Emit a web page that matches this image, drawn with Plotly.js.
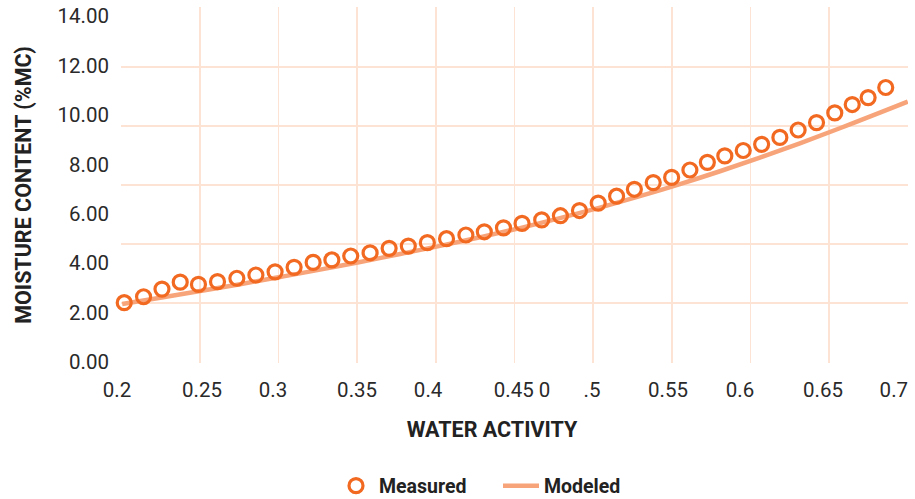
<!DOCTYPE html>
<html>
<head>
<meta charset="utf-8">
<script src="https://cdn.plot.ly/plotly-3.0.1.min.js"></script>
<style>html,body{margin:0;padding:0;background:#fff;}#chart{width:915px;height:499px;}</style>
</head>
<body>
<div id="chart"></div>
<script>
// Measured water activity / moisture content points
var measuredAw = [0.2019,0.2142,0.2259,0.2375,0.2491,0.2612,0.2735,0.2856,0.2978,0.3099,
  0.3220,0.3339,0.3459,0.3582,0.3703,0.3825,0.3946,0.4068,0.4191,0.4308,
  0.4430,0.4548,0.4673,0.4792,0.4913,0.5032,0.5149,0.5262,0.5382,0.5499,
  0.5615,0.5726,0.5837,0.5954,0.6071,0.6187,0.6303,0.6420,0.6536,0.6647,
  0.6748,0.6860];
var measuredMC = [2.40,2.64,2.95,3.23,3.14,3.25,3.39,3.52,3.65,3.83,
  4.03,4.13,4.29,4.42,4.60,4.69,4.83,4.99,5.14,5.27,
  5.43,5.61,5.75,5.92,6.13,6.43,6.71,6.99,7.26,7.47,
  7.77,8.08,8.34,8.56,8.81,9.09,9.39,9.69,10.08,10.42,
  10.70,11.11];
// Modeled curve
var modeledAw = [0.2006,0.2248,0.2502,0.2756,0.3010,0.3264,0.3519,0.3773,0.4027,0.4281,
  0.4535,0.4789,0.5043,0.5297,0.5552,0.5806,0.6060,0.6314,0.6568,0.6823,0.7000];
var modeledMC = [2.35,2.60,2.87,3.15,3.44,3.74,4.05,4.37,4.70,5.05,
  5.42,5.82,6.25,6.71,7.20,7.72,8.27,8.85,9.46,10.09,10.54];
// Axis tick labels (as printed) and their positions
var xTickText = ["0.2","0.25","0.3","0.35","0.4","0.45 0",".5","0.55","0.6","0.65","0.7"];
var xTickPos  = [0.1975,0.2515,0.2966,0.3500,0.3951,0.4548,0.4992,0.5475,0.5933,0.6460,0.6910];
var xGridVals = [0.2,0.25,0.3,0.35,0.4,0.45,0.5,0.55,0.6,0.65,0.7];
var yTickVals = [0,2,4,6,8,10,12,14];
var yTickText = ["0.00","2.00","4.00","6.00","8.00","10.00","12.00","14.00"];
var yGridVals = [0,2,4,6,8,10,12];

var W = 915, H = 499;
var M = {l: 55, r: 4, t: 7, b: 136};
var plotW = W - M.l - M.r;
function fx(px) { return (px - M.l) / plotW; }
// grid frame (pixels) and scale
var gridLeft = 121, gridRight = 908;
var pxPerUnit = (gridRight - gridLeft) / 0.5;
var labelLeft = 73, labelRight = W - M.r;

var gridColor = '#FDE3D3';
var font = 'Roboto, "Noto Sans", sans-serif';

var modeled = {
  x: modeledAw, y: modeledMC, name: 'Modeled', type: 'scatter', mode: 'lines',
  line: {color: '#F7A47A', width: 4.5, shape: 'spline'}, legendrank: 2,
  xaxis: 'x', yaxis: 'y', cliponaxis: false
};
var measured = {
  x: measuredAw, y: measuredMC, name: 'Measured', type: 'scatter', mode: 'markers',
  marker: {symbol: 'circle-open', size: 14, color: '#F26A22', line: {width: 3.2, color: '#F26A22'}},
  legendrank: 1, xaxis: 'x', yaxis: 'y', cliponaxis: false
};
// invisible helper traces so the grid / label axes are drawn
var gridHelper = {
  x: [0.3], y: [1], type: 'scatter', mode: 'markers', marker: {opacity: 0},
  showlegend: false, hoverinfo: 'skip', xaxis: 'x', yaxis: 'y2'
};
var labelHelper = {
  x: [0.3], y: [1], type: 'scatter', mode: 'markers', marker: {opacity: 0},
  showlegend: false, hoverinfo: 'skip', xaxis: 'x3', yaxis: 'y'
};

var layout = {
  width: W, height: H,
  margin: M,
  paper_bgcolor: '#fff', plot_bgcolor: 'rgba(0,0,0,0)',
  font: {family: font, color: '#222', size: 20},
  showlegend: true,
  legend: {orientation: 'h', x: fx(333), xanchor: 'left',
    yref: 'container', y: (H - 486) / H, yanchor: 'middle', itemwidth: 36,
    entrywidth: 114, entrywidthmode: 'pixels',
    font: {family: font, size: 19.5, color: '#222', weight: 'bold'}, traceorder: 'normal'},
  xaxis: {
    domain: [fx(gridLeft), fx(gridRight)],
    range: [0.19985, 0.70015], showgrid: true, gridcolor: gridColor, gridwidth: 1.5,
    tickmode: 'array', tickvals: xGridVals, showticklabels: false, ticks: '',
    zeroline: false, showline: false, anchor: 'y'
  },
  xaxis3: {
    domain: [fx(labelLeft), 1], anchor: 'y',
    range: [0.2 - (gridLeft - labelLeft) / pxPerUnit, 0.7 + (labelRight - gridRight) / pxPerUnit],
    showgrid: false, zeroline: false, showline: false,
    tickmode: 'array', tickvals: xTickPos, ticktext: xTickText, ticks: '',
    ticklabelstandoff: 12,
    tickfont: {family: font, size: 20.5, color: '#2a2a2a'},
    title: {text: 'WATER ACTIVITY', standoff: 21,
      font: {family: font, size: 21.5, color: '#222', weight: 'bold'}}
  },
  yaxis: {
    range: [-0.0405, 14.367], showgrid: false, zeroline: false, showline: false,
    tickmode: 'array', tickvals: yTickVals, ticktext: yTickText, ticks: '',
    ticklabelstandoff: 11, anchor: 'x',
    tickfont: {family: font, size: 20.5, color: '#2a2a2a'},
    title: {text: 'MOISTURE CONTENT (%MC)', standoff: 19,
      font: {family: font, size: 21.5, color: '#222', weight: 'bold'}}
  },
  yaxis2: {
    overlaying: 'y', anchor: 'x', range: [-0.034, 12.034], showgrid: true, gridcolor: gridColor, gridwidth: 1.5,
    tickmode: 'array', tickvals: yGridVals, showticklabels: false, ticks: '',
    zeroline: false, showline: false
  }
};

Plotly.newPlot('chart', [gridHelper, labelHelper, modeled, measured], layout, {displayModeBar: false, staticPlot: true});
</script>
</body>
</html>
